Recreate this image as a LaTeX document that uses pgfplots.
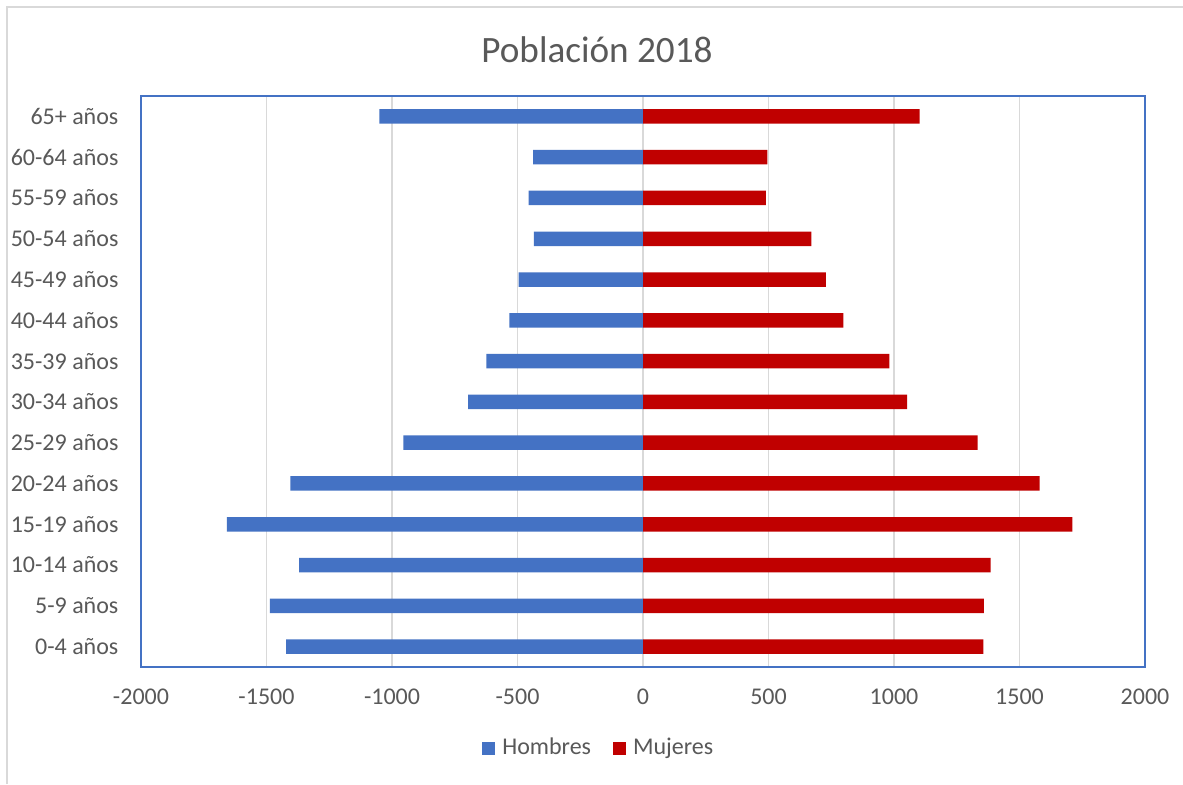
\documentclass[border=0pt]{standalone}
\usepackage{pgfplots}
\pgfplotsset{compat=1.18}
\usepackage{fontspec}
\setmainfont{Carlito}
\definecolor{hblue}{HTML}{4472C4}
\definecolor{mred}{HTML}{C00000}
\definecolor{txtgray}{HTML}{595959}
\definecolor{gridgray}{HTML}{D9D9D9}
\begin{document}
\begin{tikzpicture}
\useasboundingbox (0,0) rectangle (591.5pt,392pt);
\fill[white] (0,0) rectangle (591.5pt,392pt);
% outer frame (only top and left edges visible)
\draw[gridgray, line width=1pt] (3.5pt,0) -- (3.5pt,388.5pt) -- (591.5pt,388.5pt);
% title
\node[text=txtgray, font=\fontsize{18.6}{22}\selectfont] at (298.5pt,367pt) {Población 2018};

\begin{axis}[
    at={(70.5pt,58.5pt)}, anchor=south west,
    scale only axis,
    width=502pt, height=285.5pt,
    xbar, bar width=7.25pt,
    xmin=-2000, xmax=2000,
    ymin=-0.5, ymax=13.5,
    xtick={-2000,-1500,...,2000},
    ytick={0,...,13},
    yticklabels={0-4 años,5-9 años,10-14 años,15-19 años,20-24 años,25-29 años,30-34 años,35-39 años,40-44 años,45-49 años,50-54 años,55-59 años,60-64 años,65+ años},
    xmajorgrids=true,
    grid style={gridgray, line width=0.9pt},
    axis line style={hblue, line width=0.9pt},
    tick style={draw=none},
    /pgf/number format/assume math mode=true,
    /pgf/number format/1000 sep={},
    ticklabel style={text=txtgray, font=\fontsize{12}{14}\selectfont},
    xticklabel style={anchor=center, yshift=-15pt},
    yticklabel style={anchor=east, xshift=-3.5pt},
    legend style={at={(0.457,-0.142)}, anchor=center, draw=none, fill=none,
        legend columns=2, font=\fontsize{12}{14}\selectfont, text=txtgray,
        /tikz/every odd column/.append style={column sep=1.5pt},
        /tikz/every even column/.append style={column sep=9pt}},
    legend image code/.code={\fill[#1] (0pt,-3.25pt) rectangle (6.5pt,3.25pt);},
]
% Hombres
\addplot[fill=hblue, draw=none, bar shift=0pt] coordinates {
    (-1422,0) (-1487,1) (-1370,2) (-1658,3) (-1405,4) (-955,5) (-697,6)
    (-624,7) (-532,8) (-496,9) (-435,10) (-456,11) (-438,12) (-1050,13)
};
% Mujeres
\addplot[fill=mred, draw=none, bar shift=0pt] coordinates {
    (1356,0) (1358,1) (1385,2) (1711,3) (1580,4) (1333,5) (1052,6)
    (982,7) (798,8) (729,9) (671,10) (490,11) (496,12) (1102,13)
};
\legend{Hombres, Mujeres}
\end{axis}
\end{tikzpicture}
\end{document}
